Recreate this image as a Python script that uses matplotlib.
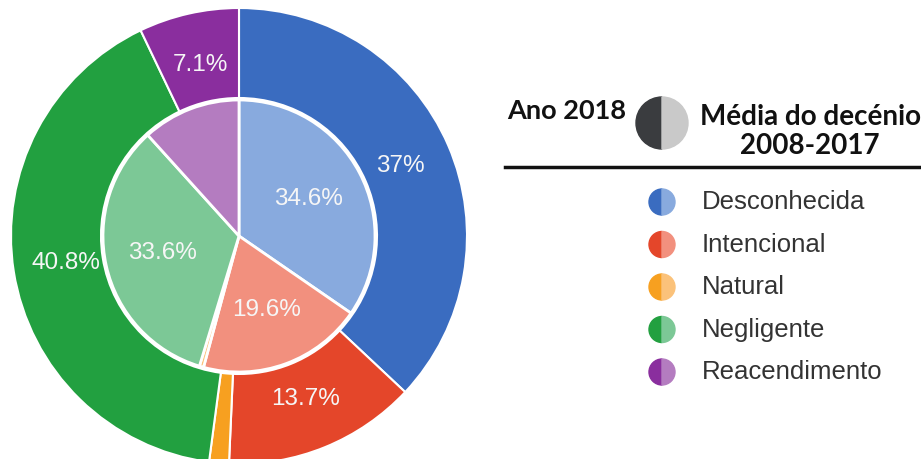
import matplotlib.pyplot as plt
from matplotlib.patches import Wedge

# Dados
categorias = ['Desconhecida', 'Intencional', 'Natural', 'Negligente', 'Reacendimento']
ano_2018 = [37.0, 13.7, 1.4, 40.8, 7.1]          # anel exterior
media_decenio = [34.6, 19.6, 0.5, 33.6, 11.7]    # círculo interior (2008-2017)

cores_escuras = ['#3a6cc0', '#e4462a', '#f7a020', '#22a040', '#8a2e9e']
cores_claras = ['#88aade', '#f2907e', '#fbc27a', '#7cc896', '#b47cc0']

titulo_esq = 'Ano 2018'
titulo_dir = 'Média do decénio\n2008-2017'

fig = plt.figure(figsize=(9.21, 4.59), dpi=100)
ax = fig.add_axes([0, 0, 1, 1])

cx, cy = 239, 459 - 236
r_ext, r_int = 228, 136
txt = dict(color='#f6f6f6', fontsize=17.5, family='Liberation Sans')


def rotulo(limite):
    return lambda p: f'{round(p, 1):g}%' if p >= limite else ''


ax.pie(ano_2018, radius=r_ext, center=(cx, cy), startangle=90, counterclock=False,
       colors=cores_escuras, autopct=rotulo(5), pctdistance=0.77, textprops=txt,
       wedgeprops=dict(width=r_ext - r_int - 2, edgecolor='white', linewidth=1.5))
ax.pie(media_decenio, radius=r_int, center=(cx, cy), startangle=90, counterclock=False,
       colors=cores_claras, autopct=rotulo(12), pctdistance=0.58, textprops=txt,
       wedgeprops=dict(edgecolor='white', linewidth=2))

# Legenda
ax.text(507, 459 - 111, titulo_esq, fontsize=19.5, fontweight='bold', family='Lato',
        color='#111111', va='center', ha='left')
ax.add_patch(Wedge((662, 459 - 123), 26, 90, 270, color='#3a3c3f'))
ax.add_patch(Wedge((662, 459 - 123), 26, -90, 90, color='#c9c9c9'))
ax.text(810, 459 - 131.5, titulo_dir, fontsize=20, fontweight='bold', family='Lato',
        color='#111111', va='center', ha='center', linespacing=1.15)
ax.plot([505, 921], [459 - 167, 459 - 167], color='#111111', lw=2.5)

y0 = 202
for i, nome in enumerate(categorias):
    y = 459 - (y0 + i * 42.5)
    ax.add_patch(Wedge((662, y), 13, 90, 270, color=cores_escuras[i]))
    ax.add_patch(Wedge((662, y), 13, -90, 90, color=cores_claras[i]))
    ax.text(702, y, nome, fontsize=18.5, family='Liberation Sans', color='#333333',
            va='center', ha='left')

ax.set_xlim(0, 921)
ax.set_ylim(0, 459)
ax.set_aspect('equal')
ax.axis('off')

fig.savefig('out.png', dpi=100, facecolor='white')
